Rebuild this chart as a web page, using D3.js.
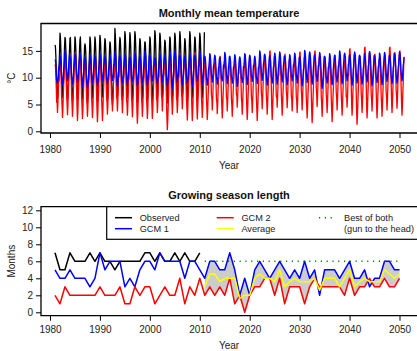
<!DOCTYPE html>
<html><head><meta charset="utf-8">
<script src="https://cdn.jsdelivr.net/npm/d3@7"></script>
<style>body{margin:0;background:#fff}svg{display:block}text{font-family:"Liberation Sans",Arial,sans-serif}</style>
</head><body>
<svg id="c" width="417" height="351"></svg>
<script>
// ---------- DATA: monthly mean temperature (rows = years, Jan..Dec) ----------
const obsStart = 1981;
const obsMonthly = [
[16.1,15.8,14.2,11.5,9.0,7.2,6.1,6.8,8.5,10.4,12.6,15.0],
[18.3,17.6,15.6,12.4,9.6,7.5,6.3,7.0,8.8,10.8,13.2,15.9],
[17.5,17.2,15.3,12.1,9.3,6.9,5.8,6.6,8.6,10.5,12.9,15.5],
[17.3,17.5,15.0,12.0,9.1,6.8,5.5,6.4,8.4,10.6,13.0,15.2],
[17.6,17.1,15.4,12.3,9.5,7.1,5.9,6.7,8.7,10.2,12.8,15.4],
[17.0,17.6,15.2,12.2,9.4,7.0,6.0,6.5,8.9,10.7,13.1,15.6],
[16.3,16.0,14.6,11.8,9.0,6.6,5.2,6.3,8.3,10.3,12.7,14.9],
[17.6,17.2,15.5,12.5,9.7,7.3,6.2,7.1,9.0,11.0,13.3,15.7],
[17.6,17.0,15.1,12.0,9.2,6.8,5.6,6.2,8.5,10.4,12.9,15.8],
[17.9,17.4,15.6,12.6,9.8,7.4,6.4,7.2,9.1,10.9,13.4,15.9],
[17.3,16.9,15.0,12.1,9.3,6.9,5.7,6.6,8.6,10.5,12.8,15.1],
[16.7,16.4,14.8,11.9,8.9,6.5,5.0,6.0,8.2,10.1,12.5,15.0],
[19.2,18.0,15.9,12.8,9.9,7.5,6.5,7.3,9.2,11.1,13.6,16.2],
[17.5,17.1,15.3,12.2,9.4,7.0,5.9,6.8,8.8,10.6,13.0,16.1],
[18.6,17.9,15.8,12.7,9.8,7.4,6.3,7.1,9.0,11.0,13.5,16.0],
[18.4,17.7,15.7,12.5,9.6,7.2,6.0,6.9,8.9,10.8,13.3,16.3],
[18.6,18.0,15.9,12.8,9.7,7.1,5.4,6.7,8.7,10.7,13.2,15.8],
[17.3,16.9,15.2,12.3,9.5,7.1,6.1,6.9,8.9,10.8,13.1,15.3],
[16.7,16.5,14.9,12.0,9.2,6.8,5.8,6.5,8.6,10.5,12.9,15.5],
[17.6,17.2,15.3,12.4,9.5,7.0,5.6,6.6,8.7,10.6,13.0,16.4],
[18.8,18.1,16.0,12.9,9.9,7.4,6.2,7.0,9.0,11.0,13.4,16.0],
[18.3,17.8,15.7,12.6,9.7,7.2,6.4,7.2,9.1,11.0,13.3,15.4],
[17.0,16.7,15.0,12.1,9.2,6.7,5.3,6.4,8.5,10.4,12.8,15.6],
[17.6,17.3,15.4,12.3,9.4,7.0,5.9,6.8,8.8,10.7,13.1,16.1],
[18.3,17.7,15.7,12.6,9.6,7.2,6.1,6.9,8.9,10.9,13.3,16.2],
[18.6,17.9,15.8,12.7,9.8,7.3,6.5,7.2,9.1,11.1,13.5,15.4],
[17.3,16.9,15.2,12.2,9.3,6.9,5.6,6.6,8.7,10.6,13.0,16.3],
[18.6,18.0,15.8,12.8,9.8,7.3,6.2,7.0,9.0,11.0,13.4,15.7],
[17.6,17.3,15.5,12.4,9.5,7.1,5.8,6.7,8.8,10.7,13.1,16.0],
[18.3,17.7,15.7,12.6,9.7,7.2,6.3,7.1,9.0,11.0,13.6,18.5]
];
const gcmStart = 1981;
const gcm2Monthly = [
[12.2,12.4,11.0,8.4,5.4,5.7,3.5,5.1,7.7,9.8,9.4,11.3],
[13.0,13.2,11.8,9.2,6.2,4.8,2.6,4.2,6.8,8.9,10.2,12.1],
[13.5,13.7,12.3,9.7,6.7,5.3,3.1,4.7,7.3,9.4,10.7,12.6],
[14.0,14.2,12.8,10.2,7.2,5.0,2.8,4.4,7.0,9.1,11.2,13.1],
[14.5,14.7,13.3,10.7,7.7,4.2,2.0,3.6,6.2,8.3,11.7,13.6],
[13.2,13.4,12.0,9.4,6.4,4.6,2.4,4.0,6.6,8.7,10.4,12.3],
[12.8,13.0,11.6,9.0,6.0,5.0,2.8,4.4,7.0,9.1,10.0,11.9],
[13.0,13.2,11.8,9.2,6.2,4.8,2.6,4.2,6.8,8.9,10.2,12.1],
[13.5,13.7,12.3,9.7,6.7,4.0,1.8,3.4,6.0,8.1,10.7,12.6],
[12.9,13.1,11.7,9.1,6.1,4.2,2.0,3.6,6.2,8.3,10.1,12.0],
[13.2,13.4,12.0,9.4,6.4,5.4,3.2,4.8,7.4,9.5,10.4,12.3],
[12.8,13.0,11.6,9.0,6.0,6.0,3.8,5.4,8.0,10.1,10.0,11.9],
[13.0,13.2,11.8,9.2,6.2,6.0,3.8,5.4,8.0,10.1,10.2,12.1],
[13.4,13.6,12.2,9.6,6.6,5.7,3.5,5.1,7.7,9.8,10.6,12.5],
[12.7,12.9,11.5,8.9,5.9,5.2,3.0,4.6,7.2,9.3,9.9,11.8],
[13.1,13.3,11.9,9.3,6.3,4.9,2.7,4.3,6.9,9.0,10.3,12.2],
[13.6,13.8,12.4,9.8,6.8,3.7,1.5,3.1,5.7,7.8,10.8,12.7],
[13.0,13.2,11.8,9.2,6.2,5.0,2.8,4.4,7.0,9.1,10.2,12.1],
[12.8,13.0,11.6,9.0,6.0,4.6,2.4,4.0,6.6,8.7,10.0,11.9],
[13.3,13.5,12.1,9.5,6.5,4.6,2.4,4.0,6.6,8.7,10.5,12.4],
[12.9,13.1,11.7,9.1,6.1,5.7,3.5,5.1,7.7,9.8,10.1,12.0],
[13.5,13.7,12.3,9.7,6.7,6.0,3.8,5.4,8.0,10.1,10.7,12.6],
[12.6,12.8,11.4,8.8,5.8,2.5,0.3,1.9,4.5,6.6,9.8,11.7],
[13.4,13.6,12.2,9.6,6.6,5.4,3.2,4.8,7.4,9.5,10.6,12.5],
[13.0,13.2,11.8,9.2,6.2,5.7,3.5,5.1,7.7,9.8,10.2,12.1],
[14.2,14.4,13.0,10.4,7.4,6.4,4.2,5.8,8.4,10.5,11.4,13.3],
[12.8,13.0,11.6,9.0,6.0,4.3,2.1,3.7,6.3,8.4,10.0,11.9],
[14.3,14.5,13.1,10.5,7.5,4.2,2.0,3.6,6.2,8.3,11.5,13.4],
[14.5,14.7,13.3,10.7,7.7,4.5,2.3,3.9,6.5,8.6,11.7,13.6],
[13.1,13.3,11.9,9.3,6.3,4.8,2.6,4.2,6.8,8.9,10.3,12.2],
[13.0,13.2,11.8,9.2,6.2,4.4,2.2,3.8,6.4,8.5,10.2,12.1],
[13.5,13.7,12.3,9.7,6.7,6.2,4.0,5.6,8.2,10.3,10.7,12.6],
[12.8,13.0,11.6,9.0,6.0,5.5,3.3,4.9,7.5,9.6,10.0,11.9],
[13.8,14.0,12.6,10.0,7.0,4.7,2.5,4.1,6.7,8.8,11.0,12.9],
[13.2,13.4,12.0,9.4,6.4,6.0,3.8,5.4,8.0,10.1,10.4,12.3],
[12.9,13.1,11.7,9.1,6.1,5.0,2.8,4.4,7.0,9.1,10.1,12.0],
[13.6,13.8,12.4,9.8,6.8,6.7,4.5,6.1,8.7,10.8,10.8,12.7],
[13.0,13.2,11.8,9.2,6.2,5.4,3.2,4.8,7.4,9.5,10.2,12.1],
[14.0,14.2,12.8,10.2,7.2,4.4,2.2,3.8,6.4,8.5,11.2,13.1],
[13.3,13.5,12.1,9.5,6.5,5.7,3.5,5.1,7.7,9.8,10.5,12.4],
[13.0,13.2,11.8,9.2,6.2,4.2,2.0,3.6,6.2,8.3,10.2,12.1],
[13.8,14.0,12.6,10.0,7.0,6.4,4.2,5.8,8.4,10.5,11.0,12.9],
[13.5,13.7,12.3,9.7,6.7,5.4,3.2,4.8,7.4,9.5,10.7,12.6],
[14.8,15.0,13.6,11.0,8.0,4.4,2.2,3.8,6.4,8.5,12.0,13.9],
[13.2,13.4,12.0,9.4,6.4,6.7,4.5,6.1,8.7,10.8,10.4,12.3],
[13.6,13.8,12.4,9.8,6.8,5.2,3.0,4.6,7.2,9.3,10.8,12.7],
[14.2,14.4,13.0,10.4,7.4,6.6,4.4,6.0,8.6,10.7,11.4,13.3],
[13.4,13.6,12.2,9.6,6.6,6.0,3.8,5.4,8.0,10.1,10.6,12.5],
[13.1,13.3,11.9,9.3,6.3,5.7,3.5,5.1,7.7,9.8,10.3,12.2],
[14.6,14.8,13.4,10.8,7.8,6.2,4.0,5.6,8.2,10.3,11.8,13.7],
[13.0,13.2,11.8,9.2,6.2,4.7,2.5,4.1,6.7,8.8,10.2,12.1],
[13.8,14.0,12.6,10.0,7.0,3.8,1.6,3.2,5.8,7.9,11.0,12.9],
[14.8,15.0,13.6,11.0,8.0,6.8,4.6,6.2,8.8,10.9,12.0,13.9],
[13.2,13.4,12.0,9.4,6.4,5.0,2.8,4.4,7.0,9.1,10.4,12.3],
[13.6,13.8,12.4,9.8,6.8,5.7,3.5,5.1,7.7,9.8,10.8,12.7],
[13.0,13.2,11.8,9.2,6.2,4.0,1.8,3.4,6.0,8.1,10.2,12.1],
[14.0,14.2,12.8,10.2,7.2,6.2,4.0,5.6,8.2,10.3,11.2,13.1],
[13.5,13.7,12.3,9.7,6.7,5.2,3.0,4.6,7.2,9.3,10.7,12.6],
[13.2,13.4,12.0,9.4,6.4,6.7,4.5,6.1,8.7,10.8,10.4,12.3],
[15.2,15.4,14.0,11.4,8.4,5.2,3.0,4.6,7.2,9.3,12.4,14.3],
[14.0,14.2,12.8,10.2,7.2,3.5,1.3,2.9,5.5,7.6,11.2,13.1],
[13.8,14.0,12.6,10.0,7.0,5.7,3.5,5.1,7.7,9.8,11.0,12.9],
[15.5,15.7,14.3,11.7,8.7,4.7,2.5,4.1,6.7,8.8,12.7,14.6],
[13.6,13.8,12.4,9.8,6.8,6.0,3.8,5.4,8.0,10.1,10.8,12.7],
[14.2,14.4,13.0,10.4,7.4,4.7,2.5,4.1,6.7,8.8,11.4,13.3],
[13.4,13.6,12.2,9.6,6.6,5.0,2.8,4.4,7.0,9.1,10.6,12.5],
[14.0,14.2,12.8,10.2,7.2,6.2,4.0,5.6,8.2,10.3,11.2,13.1],
[15.5,15.7,14.3,11.7,8.7,5.7,3.5,5.1,7.7,9.8,12.7,14.6],
[14.5,14.7,13.3,10.7,7.7,6.5,4.3,5.9,8.5,10.6,11.7,13.6],
[14.8,15.0,13.6,11.0,8.0,5.2,3.0,4.6,7.2,9.3,12.0,13.9]
];
const gcm1Monthly = [
[13.4,13.2,12.4,10.9,9.4,9.8,9.0,9.5,10.8,12.0,11.4,12.6],
[14.2,14.0,13.2,11.7,10.2,9.4,8.6,9.1,10.4,11.6,12.2,13.4],
[15.2,15.0,14.2,12.7,11.2,10.2,9.4,9.9,11.2,12.4,13.2,14.4],
[14.0,13.8,13.0,11.5,10.0,9.6,8.8,9.3,10.6,11.8,12.0,13.2],
[14.5,14.3,13.5,12.0,10.5,10.0,9.2,9.7,11.0,12.2,12.5,13.7],
[14.6,14.4,13.6,12.1,10.6,9.0,8.2,8.7,10.0,11.2,12.6,13.8],
[13.8,13.6,12.8,11.3,9.8,8.8,8.0,8.5,9.8,11.0,11.8,13.0],
[14.3,14.1,13.3,11.8,10.3,9.8,9.0,9.5,10.8,12.0,12.3,13.5],
[14.0,13.8,13.0,11.5,10.0,9.3,8.5,9.0,10.3,11.5,12.0,13.2],
[14.5,14.3,13.5,12.0,10.5,10.1,9.3,9.8,11.1,12.3,12.5,13.7],
[13.9,13.7,12.9,11.4,9.9,9.6,8.8,9.3,10.6,11.8,11.9,13.1],
[14.2,14.0,13.2,11.7,10.2,10.3,9.5,10.0,11.3,12.5,12.2,13.4],
[14.8,14.6,13.8,12.3,10.8,9.1,8.3,8.8,10.1,11.3,12.8,14.0],
[14.1,13.9,13.1,11.6,10.1,9.8,9.0,9.5,10.8,12.0,12.1,13.3],
[14.4,14.2,13.4,11.9,10.4,9.5,8.7,9.2,10.5,11.7,12.4,13.6],
[13.9,13.7,12.9,11.4,9.9,10.0,9.2,9.7,11.0,12.2,11.9,13.1],
[14.6,14.4,13.6,12.1,10.6,9.2,8.4,8.9,10.2,11.4,12.6,13.8],
[14.0,13.8,13.0,11.5,10.0,9.8,9.0,9.5,10.8,12.0,12.0,13.2],
[15.0,14.8,14.0,12.5,11.0,9.4,8.6,9.1,10.4,11.6,13.0,14.2],
[14.2,14.0,13.2,11.7,10.2,10.2,9.4,9.9,11.2,12.4,12.2,13.4],
[13.8,13.6,12.8,11.3,9.8,9.6,8.8,9.3,10.6,11.8,11.8,13.0],
[14.5,14.3,13.5,12.0,10.5,9.9,9.1,9.6,10.9,12.1,12.5,13.7],
[14.1,13.9,13.1,11.6,10.1,9.3,8.5,9.0,10.3,11.5,12.1,13.3],
[14.9,14.7,13.9,12.4,10.9,8.8,8.0,8.5,9.8,11.0,12.9,14.1],
[15.0,14.8,14.0,12.5,11.0,10.0,9.2,9.7,11.0,12.2,13.0,14.2],
[14.3,14.1,13.3,11.8,10.3,9.5,8.7,9.2,10.5,11.7,12.3,13.5],
[14.0,13.8,13.0,11.5,10.0,9.8,9.0,9.5,10.8,12.0,12.0,13.2],
[14.6,14.4,13.6,12.1,10.6,9.2,8.4,8.9,10.2,11.4,12.6,13.8],
[14.2,14.0,13.2,11.7,10.2,10.1,9.3,9.8,11.1,12.3,12.2,13.4],
[14.8,14.6,13.8,12.3,10.8,9.7,8.9,9.4,10.7,11.9,12.8,14.0],
[14.0,13.8,13.0,11.5,10.0,9.4,8.6,9.1,10.4,11.6,12.0,13.2],
[14.5,14.3,13.5,12.0,10.5,10.0,9.2,9.7,11.0,12.2,12.5,13.7],
[14.2,14.0,13.2,11.7,10.2,9.6,8.8,9.3,10.6,11.8,12.2,13.4],
[13.8,13.6,12.8,11.3,9.8,10.2,9.4,9.9,11.2,12.4,11.8,13.0],
[14.7,14.5,13.7,12.2,10.7,9.7,8.9,9.4,10.7,11.9,12.7,13.9],
[14.0,13.8,13.0,11.5,10.0,9.8,9.0,9.5,10.8,12.0,12.0,13.2],
[14.3,14.1,13.3,11.8,10.3,9.2,8.4,8.9,10.2,11.4,12.3,13.5],
[13.9,13.7,12.9,11.4,9.9,9.9,9.1,9.6,10.9,12.1,11.9,13.1],
[14.5,14.3,13.5,12.0,10.5,9.5,8.7,9.2,10.5,11.7,12.5,13.7],
[14.2,14.0,13.2,11.7,10.2,10.1,9.3,9.8,11.1,12.3,12.2,13.4],
[14.0,13.8,13.0,11.5,10.0,9.7,8.9,9.4,10.7,11.9,12.0,13.2],
[15.0,14.8,14.0,12.5,11.0,10.3,9.5,10.0,11.3,12.5,13.0,14.2],
[14.4,14.2,13.4,11.9,10.4,9.4,8.6,9.1,10.4,11.6,12.4,13.6],
[14.1,13.9,13.1,11.6,10.1,9.8,9.0,9.5,10.8,12.0,12.1,13.3],
[14.6,14.4,13.6,12.1,10.6,9.6,8.8,9.3,10.6,11.8,12.6,13.8],
[14.8,14.6,13.8,12.3,10.8,10.0,9.2,9.7,11.0,12.2,12.8,14.0],
[14.0,13.8,13.0,11.5,10.0,9.5,8.7,9.2,10.5,11.7,12.0,13.2],
[14.3,14.1,13.3,11.8,10.3,10.2,9.4,9.9,11.2,12.4,12.3,13.5],
[14.6,14.4,13.6,12.1,10.6,9.8,9.0,9.5,10.8,12.0,12.6,13.8],
[13.9,13.7,12.9,11.4,9.9,9.3,8.5,9.0,10.3,11.5,11.9,13.1],
[15.1,14.9,14.1,12.6,11.1,9.9,9.1,9.6,10.9,12.1,13.1,14.3],
[14.8,14.6,13.8,12.3,10.8,9.6,8.8,9.3,10.6,11.8,12.8,14.0],
[14.3,14.1,13.3,11.8,10.3,10.1,9.3,9.8,11.1,12.3,12.3,13.5],
[14.7,14.5,13.7,12.2,10.7,8.8,8.0,8.5,9.8,11.0,12.7,13.9],
[14.0,13.8,13.0,11.5,10.0,9.8,9.0,9.5,10.8,12.0,12.0,13.2],
[14.5,14.3,13.5,12.0,10.5,9.5,8.7,9.2,10.5,11.7,12.5,13.7],
[14.2,14.0,13.2,11.7,10.2,10.0,9.2,9.7,11.0,12.2,12.2,13.4],
[15.0,14.8,14.0,12.5,11.0,9.7,8.9,9.4,10.7,11.9,13.0,14.2],
[14.6,14.4,13.6,12.1,10.6,10.2,9.4,9.9,11.2,12.4,12.6,13.8],
[14.3,14.1,13.3,11.8,10.3,9.4,8.6,9.1,10.4,11.6,12.3,13.5],
[14.8,14.6,13.8,12.3,10.8,9.8,9.0,9.5,10.8,12.0,12.8,14.0],
[14.2,14.0,13.2,11.7,10.2,9.6,8.8,9.3,10.6,11.8,12.2,13.4],
[14.5,14.3,13.5,12.0,10.5,10.0,9.2,9.7,11.0,12.2,12.5,13.7],
[14.9,14.7,13.9,12.4,10.9,9.3,8.5,9.0,10.3,11.5,12.9,14.1],
[14.1,13.9,13.1,11.6,10.1,9.9,9.1,9.6,10.9,12.1,12.1,13.3],
[14.6,14.4,13.6,12.1,10.6,9.5,8.7,9.2,10.5,11.7,12.6,13.8],
[14.7,14.5,13.7,12.2,10.7,10.1,9.3,9.8,11.1,12.3,12.7,13.9],
[14.2,14.0,13.2,11.7,10.2,9.7,8.9,9.4,10.7,11.9,12.2,13.4],
[14.5,14.3,13.5,12.0,10.5,9.8,9.0,9.5,10.8,12.0,12.5,13.7],
[14.8,14.6,13.8,12.3,10.8,10.2,9.4,9.9,11.2,12.4,12.8,13.8]
];

// ---------- DATA: growing season length (months) ----------
const seasonYears = d3.range(1981, 2051);
const obsSeason = [7,5,5,7,6,6,6,7,6,7,6,6,5,6,6,6,6,6,7,7,6,7,6,6,7,6,7,6,6,7];
const gcm1Season = [5,4,4,5,4,4,4,3,4,7,5,6,6,6,3,4,3,5,6,6,5,7,6,6,6,6,4,6,6,5,
  4,6,6,5,5,7,5,2,4,2,5,6,5,4,5,6,5,4,5,4,6,4,5,2,5,5,5,4,5,6,4,4,5,3,4,4,6,6,5,5];
const gcm2Season = [2,1,3,2,2,2,2,2,2,3,2,2,2,3,1,1,3,2,3,3,1,2,3,2,2,4,1,3,2,4,
  2,3,2,3,2,4,1,2,0,2,3,3,4,4,2,4,1,3,3,3,1,3,4,3,3,3,3,3,2,4,2,3,3,4,3,3,4,3,3,4];
const futureStart = 2011;
const avgSeason = [3,4.5,4.5,3.6,4,4,4,1.65,2,2,4,4.5,4,4,3.6,5,3,3.6,4,3.6,
  3.6,3.6,4,2.6,4,4,4,3,4,5,3,3.6,4,3.6,3.6,3.6,5,4.5,4,4.5];
const bestValue = 6;
const bestRange = [2011, 2050];

const xTicks = [1980,1990,2000,2010,2020,2030,2040,2050];
const yTicksTop = [0,5,10,15];
const yTicksBot = [0,2,4,6,8,10,12];

// ---------- DRAWING ----------
const svg = d3.select("#c");
const x = d3.scaleLinear().domain([1980, 2050]).range([50, 399.5]);
const yT = d3.scaleLinear().domain([0, 15]).range([131.3, 50.9]);
const yB = d3.scaleLinear().domain([0, 12]).range([312.3, 210.3]);

const topBox = {l:41, t:23.5, b:133, r:418};
const botBox = {l:41, t:206.7, b:315.7, r:418};

function monthly(rows, start) {
  const out = [];
  rows.forEach((r, i) => r.forEach((v, m) => out.push({t: start + i + m/12, v})));
  return out;
}

const defs = svg.append("defs");
defs.append("clipPath").attr("id","clipT").append("rect")
  .attr("x",topBox.l).attr("y",topBox.t).attr("width",topBox.r-topBox.l).attr("height",topBox.b-topBox.t);
defs.append("clipPath").attr("id","clipB").append("rect")
  .attr("x",botBox.l).attr("y",botBox.t).attr("width",botBox.r-botBox.l).attr("height",botBox.b-botBox.t);

function drawAxes(box, yScale, yTicks, title, ylab, titleY, tickLabY, xlabY) {
  const g = svg.append("g");
  const xa = d3.axisBottom(x).tickValues(xTicks).tickFormat(d3.format("d")).tickSize(5).tickPadding(3);
  const gx = g.append("g").attr("transform", `translate(0,${box.b})`).call(xa);
  gx.select(".domain").remove();
  gx.selectAll("line").attr("stroke","#000");
  gx.selectAll("text").attr("font-size",10).attr("fill","#222").attr("y", tickLabY - box.b).attr("dy", 0);
  const ya = d3.axisLeft(yScale).tickValues(yTicks).tickSize(5).tickPadding(3);
  const gy = g.append("g").attr("transform", `translate(${box.l},0)`).call(ya);
  gy.select(".domain").remove();
  gy.selectAll("line").attr("stroke","#000");
  gy.selectAll("text").attr("font-size",10).attr("fill","#222");
  g.append("path").attr("fill","none").attr("stroke","#000").attr("stroke-width",1.3)
    .attr("d", `M${box.r},${box.t}H${box.l}V${box.b}H${box.r}`);
  svg.append("text").attr("x", 229).attr("y", titleY).attr("text-anchor","middle")
    .attr("font-size",11).attr("font-weight","bold").attr("fill","#111").text(title);
  svg.append("text").attr("x", 229).attr("y", xlabY).attr("text-anchor","middle")
    .attr("font-size",10).attr("fill","#222").text("Year");
  svg.append("text").attr("transform", `translate(15,${(box.t+box.b)/2}) rotate(-90)`)
    .attr("text-anchor","middle").attr("font-size",10).attr("fill","#222").text(ylab);
}

// Top panel
const lineT = d3.line().x(d => x(d.t)).y(d => yT(d.v));
const gT = svg.append("g").attr("clip-path","url(#clipT)");
[[obsMonthly, obsStart, "#000"], [gcm2Monthly, gcmStart, "#ff0000"], [gcm1Monthly, gcmStart, "#0000ff"]]
  .forEach(([rows, st, col]) => {
    gT.append("path").datum(monthly(rows, st)).attr("fill","none").attr("stroke",col)
      .attr("stroke-width",1.3).attr("stroke-linejoin","round").attr("d", lineT);
  });
drawAxes(topBox, yT, yTicksTop, "Monthly mean temperature", "°C", 16.5, 152.5, 168.5);

// Bottom panel
const gB = svg.append("g").attr("clip-path","url(#clipB)");
const fut = seasonYears.map((yr,i)=>({yr, a:gcm1Season[i], b:gcm2Season[i]})).filter(d => d.yr >= futureStart);
gB.append("path").datum(fut).attr("fill","#cccccc").attr("stroke","none")
  .attr("d", d3.area().x(d => x(d.yr)).y0(d => yB(d.b)).y1(d => yB(d.a)));
const lineB = d3.line().x(d => x(d[0])).y(d => yB(d[1]));
function seasonLine(vals, start, col) {
  gB.append("path").datum(vals.map((v,i)=>[start+i, v])).attr("fill","none")
    .attr("stroke",col).attr("stroke-width",1.5).attr("stroke-linejoin","round").attr("d", lineB);
}
seasonLine(obsSeason, 1981, "#000");
seasonLine(gcm1Season, 1981, "#0000ff");
seasonLine(gcm2Season, 1981, "#ff0000");
seasonLine(avgSeason, futureStart, "#ffff00");
gB.append("path").datum([[bestRange[0], bestValue],[bestRange[1], bestValue]])
  .attr("fill","none").attr("stroke","#008000").attr("stroke-width",1.6)
  .attr("stroke-dasharray","1.2,4.6").attr("d", lineB);
drawAxes(botBox, yB, yTicksBot, "Growing season length", "Months", 199, 333.5, 349);

// Legend
const lg = svg.append("g");
lg.append("rect").attr("x",106.7).attr("y",botBox.t).attr("width",330).attr("height",239.3-botBox.t)
  .attr("fill","#fff").attr("stroke","#000").attr("stroke-width",1.2);
const legendItems = [
  {label:"Observed", col:"#000", x:115, row:0},
  {label:"GCM 1", col:"#0000ff", x:115, row:1},
  {label:"GCM 2", col:"#ff0000", x:216.7, row:0},
  {label:"Average", col:"#ffff00", x:216.7, row:1},
  {label:"Best of both", col:"#008000", x:319, row:0, dots:true},
  {label:"(gun to the head)", col:null, x:319, row:1}
];
legendItems.forEach(it => {
  const cy = it.row ? 228.7 : 217.7;
  if (it.col) {
    lg.append("line").attr("x1", it.x).attr("x2", it.x + 17).attr("y1", cy).attr("y2", cy)
      .attr("stroke", it.col).attr("stroke-width", it.dots ? 1.6 : 1.5)
      .attr("stroke-dasharray", it.dots ? "1.2,4.6" : null);
  }
  lg.append("text").attr("x", it.x + (it.x === 319 ? 25 : 24.7)).attr("y", cy + 3.3)
    .attr("font-size",9.2).attr("fill","#222").text(it.label);
});
</script>
</body></html>
